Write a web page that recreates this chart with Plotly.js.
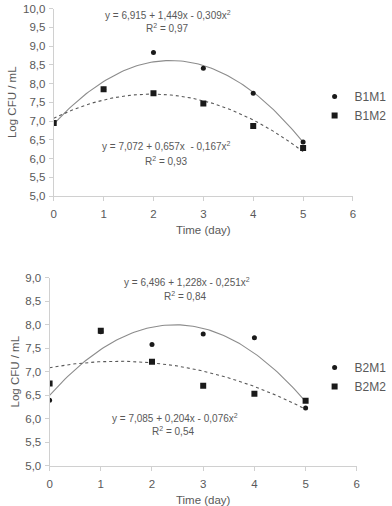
<!DOCTYPE html>
<html>
<head>
<meta charset="utf-8">
<script src="https://cdn.plot.ly/plotly-3.0.1.min.js"></script>
<style>
  html, body { margin: 0; padding: 0; background: #fff; }
  #chart { width: 392px; height: 506px; }
</style>
</head>
<body>
<div id="chart"></div>
<script>
// Sampling days
const days = [0, 1, 2, 3, 4, 5];

// Panel 1: Log CFU/mL
const b1m1 = [6.95, 7.85, 8.83, 8.41, 7.74, 6.44];
const b1m2 = [6.95, 7.85, 7.74, 7.47, 6.87, 6.28];

// Panel 2: Log CFU/mL
const b2m1 = [6.39, 7.85, 7.58, 7.80, 7.72, 6.23];
const b2m2 = [6.75, 7.87, 7.21, 6.70, 6.53, 6.38];

// Quadratic trendline coefficients [a, b, c] for y = a + b·x + c·x²
const fitB1M1 = [6.915, 1.449, -0.309];
const fitB1M2 = [7.072, 0.657, -0.167];
const fitB2M1 = [6.496, 1.228, -0.251];
const fitB2M2 = [7.085, 0.204, -0.076];

// Trendline labels
const eqB1M1 = ['y = 6,915 + 1,449x - 0,309x<sup>2</sup>', 'R<sup>2</sup> = 0,97'];
const eqB1M2 = ['y = 7,072 + 0,657x  - 0,167x<sup>2</sup>', 'R<sup>2</sup> = 0,93'];
const eqB2M1 = ['y = 6,496 + 1,228x - 0,251x<sup>2</sup>', 'R<sup>2</sup> = 0,84'];
const eqB2M2 = ['y = 7,085 + 0,204x - 0,076x<sup>2</sup>', 'R<sup>2</sup> = 0,54'];

const W = 392, H = 506;
const px = x => x / W;
const py = y => 1 - y / H;

// Evaluate a trendline over the sampled day range
function curve(coef) {
  const xs = [], ys = [];
  for (let i = 0; i <= 100; i++) {
    const x = days[0] + (days[days.length - 1] - days[0]) * i / 100;
    xs.push(x);
    ys.push(coef[0] + coef[1] * x + coef[2] * x * x);
  }
  return { x: xs, y: ys };
}

const solid = { color: '#8c8c8c', width: 1.1 };
const dotted = { color: '#595959', width: 1.1, dash: 'dot' };
const circle = { symbol: 'circle', size: 5, color: '#1a1a1a' };
const square = { symbol: 'square', size: 6, color: '#1a1a1a' };

function fitTrace(coef, line, xa, ya) {
  const c = curve(coef);
  return { x: c.x, y: c.y, mode: 'lines', line: line, xaxis: xa, yaxis: ya,
           showlegend: false, hoverinfo: 'skip' };
}
function ptTrace(vals, name, marker, xa, ya, lg) {
  return { x: days, y: vals, name: name, mode: 'markers', marker: marker,
           xaxis: xa, yaxis: ya, legend: lg };
}

const data = [
  fitTrace(fitB1M1, solid, 'x', 'y'),
  fitTrace(fitB1M2, dotted, 'x', 'y'),
  ptTrace(b1m1, 'B1M1', circle, 'x', 'y', 'legend'),
  ptTrace(b1m2, 'B1M2', square, 'x', 'y', 'legend'),
  fitTrace(fitB2M1, solid, 'x2', 'y2'),
  fitTrace(fitB2M2, dotted, 'x2', 'y2'),
  ptTrace(b2m1, 'B2M1', circle, 'x2', 'y2', 'legend2'),
  ptTrace(b2m2, 'B2M2', square, 'x2', 'y2', 'legend2')
];

const txt = '#595959';
const fontFam = 'Liberation Sans, Arial, sans-serif';

function xAxis(domain, anchor) {
  return {
    domain: domain, anchor: anchor, range: [0, 6], dtick: 1, tick0: 0,
    showgrid: false, zeroline: false, showline: true, linecolor: '#d0d0d0', linewidth: 1,
    ticks: 'outside', ticklen: 4, tickcolor: '#d0d0d0', ticklabelstandoff: 3,
    tickfont: { size: 11.5, color: txt, family: fontFam },
    title: { text: 'Time (day)', font: { size: 11.5, color: txt, family: fontFam }, standoff: 7 },
    automargin: false, fixedrange: true
  };
}
function yAxis(domain, anchor, range) {
  return {
    domain: domain, anchor: anchor, range: range, dtick: 0.5, tick0: 5,
    tickformat: '.1f',
    showgrid: false, zeroline: false, showline: true, linecolor: '#d0d0d0', linewidth: 1,
    ticks: 'outside', ticklen: 4, tickcolor: '#d0d0d0', ticklabelstandoff: 1,
    tickfont: { size: 11.5, color: txt, family: fontFam },
    title: { text: 'Log CFU / mL', font: { size: 11.5, color: txt, family: fontFam }, standoff: 3 },
    automargin: false, fixedrange: true
  };
}

function note(text, x, y, anchor) {
  return { text: text, xref: 'paper', yref: 'paper', x: px(x), y: py(y),
           xanchor: anchor, yanchor: 'middle', showarrow: false,
           font: { size: 10, color: txt, family: fontFam } };
}

const legendStyle = (y) => ({
  x: px(328), y: py(y), xanchor: 'left', yanchor: 'top',
  bgcolor: 'rgba(0,0,0,0)', font: { size: 12, color: txt, family: fontFam },
  itemwidth: 30, tracegroupgap: 0
});

const layout = {
  width: W, height: H,
  margin: { l: 0, r: 0, t: 0, b: 0 },
  paper_bgcolor: '#fff', plot_bgcolor: '#fff',
  separators: ',.',
  font: { family: fontFam, color: txt },
  xaxis: xAxis([px(56), px(368)], 'y'),
  yaxis: yAxis([py(196), py(8.5)], 'x', [5, 10]),
  xaxis2: xAxis([px(51.7), px(372)], 'y2'),
  yaxis2: yAxis([py(465.7), py(277.7)], 'x2', [5, 9]),
  legend: legendStyle(82),
  legend2: legendStyle(353),
  annotations: [
    note(eqB1M1[0], 175, 15, 'center'),
    note(eqB1M1[1], 198, 28, 'right'),
    note(eqB1M2[0], 173.5, 146, 'center'),
    note(eqB1M2[1], 197, 161, 'right'),
    note(eqB2M1[0], 195, 282, 'center'),
    note(eqB2M1[1], 217, 296, 'right'),
    note(eqB2M2[0], 182, 418, 'center'),
    note(eqB2M2[1], 204, 431, 'right')
  ]
};

Plotly.newPlot('chart', data, layout, { staticPlot: true, displayModeBar: false });
</script>
</body>
</html>
